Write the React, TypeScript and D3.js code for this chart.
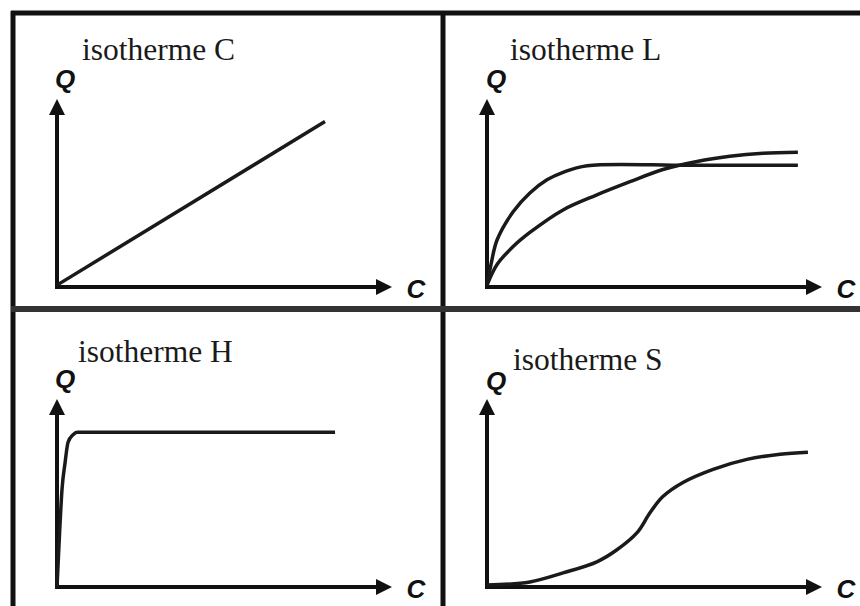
import React from "react";
import * as d3 from "d3";

// Normalised isotherm curves: [C, Q] pairs, both on a 0..1 scale of the axis length
const isoC: [number, number][] = [
  [0, 0.01],
  [0.8, 0.88],
];
const isoL1: [number, number][] = [
  [0, 0.01], [0.012, 0.12], [0.03, 0.25], [0.078, 0.4], [0.128, 0.5],
  [0.179, 0.57], [0.227, 0.61], [0.299, 0.645], [0.6, 0.647], [0.928, 0.647],
];
const isoL2: [number, number][] = [
  [0, 0.01], [0.03, 0.12], [0.078, 0.215], [0.128, 0.29], [0.227, 0.41],
  [0.328, 0.49], [0.427, 0.56], [0.525, 0.625], [0.627, 0.668], [0.725, 0.695],
  [0.824, 0.711], [0.928, 0.717],
];
const isoH: [number, number][] = [
  [0, 0], [0.008, 0.3], [0.015, 0.52], [0.024, 0.66], [0.033, 0.77],
  [0.048, 0.81], [0.06, 0.823], [0.4, 0.823], [0.83, 0.823],
];
const isoS: [number, number][] = [
  [0, 0.01], [0.128, 0.027], [0.227, 0.075], [0.328, 0.134], [0.388, 0.198],
  [0.448, 0.289], [0.487, 0.396], [0.525, 0.481], [0.585, 0.556], [0.675, 0.626],
  [0.776, 0.679], [0.875, 0.706], [0.958, 0.717],
];

const panelTitles = ["isotherme C", "isotherme L", "isotherme H", "isotherme S"];
const panelCurves = [[isoC], [isoL1, isoL2], [isoH], [isoS]];
const yLabel = "Q";
const xLabel = "C";

const W = 860;
const H = 606;
const AXIS_W = 335;
const AXIS_H = 188;
const INK = "#111";

// Origin of each panel's axes and its title placement
const panelLayout = [
  { ox: 57, oy: 287, tx: 82, ty: 60, qx: 65, qy: 88 },
  { ox: 487, oy: 287, tx: 510, ty: 60, qx: 496, qy: 88 },
  { ox: 57, oy: 587, tx: 78, ty: 362, qx: 65, qy: 388 },
  { ox: 487, oy: 587, tx: 513, ty: 370, qx: 496, qy: 390 },
];

function Panel({ idx }: { idx: number }) {
  const L = panelLayout[idx];
  const x = d3.scaleLinear().domain([0, 1]).range([L.ox, L.ox + AXIS_W]);
  const y = d3.scaleLinear().domain([0, 1]).range([L.oy, L.oy - AXIS_H]);
  const curve = idx === 2 ? d3.curveMonotoneX : d3.curveCatmullRom.alpha(0.5);
  const line = d3
    .line<[number, number]>()
    .x((d) => x(d[0]))
    .y((d) => y(d[1]))
    .curve(curve);

  const xTip = x(1);
  const yTip = y(1);
  const head = 16;
  const half = 8;

  return (
    <g>
      <text
        x={L.tx}
        y={L.ty}
        fontFamily="'Liberation Serif', 'Times New Roman', serif"
        fontSize={31.5}
        fill="#1a1a1a"
      >
        {panelTitles[idx]}
      </text>
      <text
        x={L.qx}
        y={L.qy}
        textAnchor="middle"
        fontFamily="'Liberation Sans', Arial, sans-serif"
        fontWeight="bold"
        fontStyle="italic"
        fontSize={26}
        fill={INK}
      >
        {yLabel}
      </text>
      <text
        x={xTip + 24}
        y={L.oy + 11}
        textAnchor="middle"
        fontFamily="'Liberation Sans', Arial, sans-serif"
        fontWeight="bold"
        fontStyle="italic"
        fontSize={26}
        fill={INK}
      >
        {xLabel}
      </text>

      {/* axes */}
      <line x1={L.ox} y1={L.oy} x2={xTip - head + 2} y2={L.oy} stroke={INK} strokeWidth={4} />
      <line x1={L.ox} y1={L.oy + 2} x2={L.ox} y2={yTip + head - 2} stroke={INK} strokeWidth={4} />
      <polygon
        points={`${xTip},${L.oy} ${xTip - head},${L.oy - half} ${xTip - head},${L.oy + half}`}
        fill={INK}
      />
      <polygon
        points={`${L.ox},${yTip} ${L.ox - half},${yTip + head} ${L.ox + half},${yTip + head}`}
        fill={INK}
      />

      {panelCurves[idx].map((c, i) => (
        <path key={i} d={line(c) ?? ""} fill="none" stroke="#1a1a1a" strokeWidth={3.5} />
      ))}
    </g>
  );
}

export default function App() {
  return (
    <svg
      width={W}
      height={H}
      viewBox={`0 0 ${W} ${H}`}
      style={{ position: "absolute", left: 0, top: 0, background: "#fff" }}
    >
      <rect x={0} y={0} width={W} height={H} fill="#fff" />
      {/* frame and dividers */}
      <line x1={11} y1={13} x2={W} y2={13} stroke={INK} strokeWidth={5} />
      <line x1={13} y1={11} x2={13} y2={H} stroke={INK} strokeWidth={5} />
      <line x1={443} y1={11} x2={443} y2={H} stroke={INK} strokeWidth={5} />
      <line x1={11} y1={309} x2={W} y2={309} stroke="#333" strokeWidth={6} />
      {panelTitles.map((_, i) => (
        <Panel key={i} idx={i} />
      ))}
    </svg>
  );
}
